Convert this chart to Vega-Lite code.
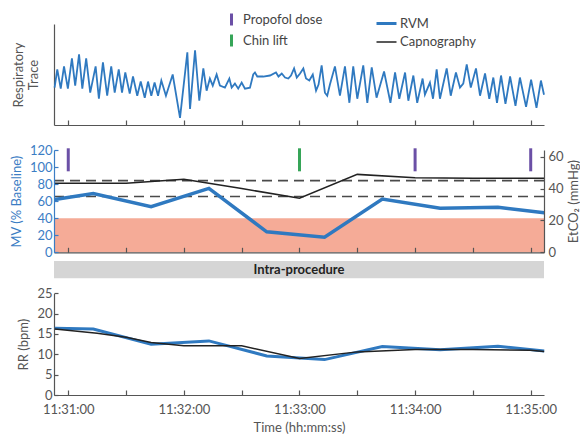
{
  "$schema": "https://vega.github.io/schema/vega-lite/v6.json",
  "width": 490,
  "height": 371,
  "autosize": {"type": "none"},
  "padding": {"left": 54, "top": 24, "right": 36, "bottom": 46},
  "config": {
    "view": {"stroke": null},
    "font": "Lato",
    "axis": {"labelFont": "Lato", "titleFont": "Lato", "labelFontSize": 13, "titleFontSize": 13, "titleFontWeight": "normal", "labelColor": "#555", "titleColor": "#555", "domainColor": "#555", "tickColor": "#555", "domainWidth": 1.2, "tickWidth": 1.2, "grid": false},
    "legend": {"labelFont": "Lato"}
  },
  "datasets": {
    "trace": [
      {"time": "2020-01-01T11:30:52.900", "signal": 37}, {"time": "2020-01-01T11:30:54.300", "signal": 55}, {"time": "2020-01-01T11:30:56.100", "signal": 36}, {"time": "2020-01-01T11:30:57.800", "signal": 58}, {"time": "2020-01-01T11:30:59.800", "signal": 36}, {"time": "2020-01-01T11:31:01.900", "signal": 66}, {"time": "2020-01-01T11:31:03.600", "signal": 39}, {"time": "2020-01-01T11:31:05.600", "signal": 70}, {"time": "2020-01-01T11:31:07.300", "signal": 36}, {"time": "2020-01-01T11:31:09.300", "signal": 66}, {"time": "2020-01-01T11:31:11.400", "signal": 32}, {"time": "2020-01-01T11:31:14.200", "signal": 58}, {"time": "2020-01-01T11:31:15.900", "signal": 26}, {"time": "2020-01-01T11:31:18.000", "signal": 62}, {"time": "2020-01-01T11:31:20.200", "signal": 29}, {"time": "2020-01-01T11:31:22.300", "signal": 58}, {"time": "2020-01-01T11:31:24.100", "signal": 32}, {"time": "2020-01-01T11:31:26.200", "signal": 55}, {"time": "2020-01-01T11:31:27.900", "signal": 32}, {"time": "2020-01-01T11:31:29.600", "signal": 52}, {"time": "2020-01-01T11:31:31.900", "signal": 31}, {"time": "2020-01-01T11:31:33.600", "signal": 48}, {"time": "2020-01-01T11:31:35.800", "signal": 29}, {"time": "2020-01-01T11:31:37.600", "signal": 43}, {"time": "2020-01-01T11:31:39.700", "signal": 27}, {"time": "2020-01-01T11:31:41.400", "signal": 43}, {"time": "2020-01-01T11:31:43.100", "signal": 29}, {"time": "2020-01-01T11:31:44.800", "signal": 42}, {"time": "2020-01-01T11:31:46.600", "signal": 29}, {"time": "2020-01-01T11:31:48.300", "signal": 44}, {"time": "2020-01-01T11:31:50.700", "signal": 29}, {"time": "2020-01-01T11:31:54.200", "signal": 50}, {"time": "2020-01-01T11:31:58.000", "signal": 7}, {"time": "2020-01-01T11:32:01.800", "signal": 72}, {"time": "2020-01-01T11:32:03.200", "signal": 16}, {"time": "2020-01-01T11:32:05.800", "signal": 74}, {"time": "2020-01-01T11:32:08.000", "signal": 24}, {"time": "2020-01-01T11:32:10.100", "signal": 56}, {"time": "2020-01-01T11:32:11.800", "signal": 34}, {"time": "2020-01-01T11:32:13.500", "signal": 46}, {"time": "2020-01-01T11:32:15.000", "signal": 39}, {"time": "2020-01-01T11:32:17.000", "signal": 50}, {"time": "2020-01-01T11:32:18.700", "signal": 39}, {"time": "2020-01-01T11:32:21.300", "signal": 37}, {"time": "2020-01-01T11:32:23.600", "signal": 46}, {"time": "2020-01-01T11:32:24.800", "signal": 37}, {"time": "2020-01-01T11:32:26.500", "signal": 41}, {"time": "2020-01-01T11:32:28.200", "signal": 36}, {"time": "2020-01-01T11:32:30.000", "signal": 42}, {"time": "2020-01-01T11:32:31.700", "signal": 36}, {"time": "2020-01-01T11:32:34.300", "signal": 37}, {"time": "2020-01-01T11:32:36.000", "signal": 50}, {"time": "2020-01-01T11:32:36.900", "signal": 52}, {"time": "2020-01-01T11:32:38.100", "signal": 48}, {"time": "2020-01-01T11:32:41.200", "signal": 48}, {"time": "2020-01-01T11:32:44.700", "signal": 49}, {"time": "2020-01-01T11:32:47.800", "signal": 52}, {"time": "2020-01-01T11:32:49.100", "signal": 48}, {"time": "2020-01-01T11:32:50.800", "signal": 51}, {"time": "2020-01-01T11:32:52.500", "signal": 47}, {"time": "2020-01-01T11:32:54.200", "signal": 46}, {"time": "2020-01-01T11:32:55.600", "signal": 49}, {"time": "2020-01-01T11:32:57.200", "signal": 56}, {"time": "2020-01-01T11:32:58.600", "signal": 47}, {"time": "2020-01-01T11:33:00.300", "signal": 51}, {"time": "2020-01-01T11:33:02.000", "signal": 56}, {"time": "2020-01-01T11:33:03.400", "signal": 46}, {"time": "2020-01-01T11:33:05.100", "signal": 44}, {"time": "2020-01-01T11:33:06.900", "signal": 50}, {"time": "2020-01-01T11:33:08.600", "signal": 34}, {"time": "2020-01-01T11:33:09.900", "signal": 40}, {"time": "2020-01-01T11:33:11.500", "signal": 59}, {"time": "2020-01-01T11:33:13.200", "signal": 32}, {"time": "2020-01-01T11:33:14.400", "signal": 29}, {"time": "2020-01-01T11:33:15.800", "signal": 40}, {"time": "2020-01-01T11:33:18.400", "signal": 58}, {"time": "2020-01-01T11:33:21.000", "signal": 29}, {"time": "2020-01-01T11:33:23.600", "signal": 58}, {"time": "2020-01-01T11:33:25.900", "signal": 22}, {"time": "2020-01-01T11:33:27.900", "signal": 58}, {"time": "2020-01-01T11:33:30.000", "signal": 26}, {"time": "2020-01-01T11:33:33.100", "signal": 59}, {"time": "2020-01-01T11:33:35.200", "signal": 22}, {"time": "2020-01-01T11:33:37.500", "signal": 57}, {"time": "2020-01-01T11:33:40.000", "signal": 27}, {"time": "2020-01-01T11:33:43.900", "signal": 53}, {"time": "2020-01-01T11:33:47.200", "signal": 22}, {"time": "2020-01-01T11:33:49.600", "signal": 52}, {"time": "2020-01-01T11:33:51.800", "signal": 26}, {"time": "2020-01-01T11:33:54.800", "signal": 52}, {"time": "2020-01-01T11:33:56.500", "signal": 24}, {"time": "2020-01-01T11:33:59.100", "signal": 49}, {"time": "2020-01-01T11:34:01.100", "signal": 22}, {"time": "2020-01-01T11:34:03.900", "signal": 46}, {"time": "2020-01-01T11:34:05.100", "signal": 30}, {"time": "2020-01-01T11:34:07.700", "signal": 42}, {"time": "2020-01-01T11:34:09.300", "signal": 26}, {"time": "2020-01-01T11:34:11.200", "signal": 55}, {"time": "2020-01-01T11:34:12.900", "signal": 26}, {"time": "2020-01-01T11:34:16.400", "signal": 56}, {"time": "2020-01-01T11:34:18.500", "signal": 29}, {"time": "2020-01-01T11:34:21.200", "signal": 52}, {"time": "2020-01-01T11:34:23.300", "signal": 37}, {"time": "2020-01-01T11:34:25.000", "signal": 41}, {"time": "2020-01-01T11:34:26.800", "signal": 60}, {"time": "2020-01-01T11:34:28.900", "signal": 37}, {"time": "2020-01-01T11:34:31.600", "signal": 56}, {"time": "2020-01-01T11:34:33.700", "signal": 29}, {"time": "2020-01-01T11:34:36.300", "signal": 51}, {"time": "2020-01-01T11:34:38.500", "signal": 26}, {"time": "2020-01-01T11:34:40.600", "signal": 47}, {"time": "2020-01-01T11:34:42.500", "signal": 22}, {"time": "2020-01-01T11:34:44.600", "signal": 49}, {"time": "2020-01-01T11:34:46.900", "signal": 21}, {"time": "2020-01-01T11:34:49.300", "signal": 48}, {"time": "2020-01-01T11:34:52.100", "signal": 19}, {"time": "2020-01-01T11:34:54.400", "signal": 47}, {"time": "2020-01-01T11:34:57.600", "signal": 18}, {"time": "2020-01-01T11:35:00.200", "signal": 45}, {"time": "2020-01-01T11:35:03.000", "signal": 17}, {"time": "2020-01-01T11:35:05.300", "signal": 44}, {"time": "2020-01-01T11:35:06.900", "signal": 30}
    ],
    "mv": [
      {"time": "2020-01-01T11:30:53", "MV": 62}, {"time": "2020-01-01T11:31:13", "MV": 69}, {"time": "2020-01-01T11:31:43", "MV": 53.5}, {"time": "2020-01-01T11:32:13", "MV": 75}, {"time": "2020-01-01T11:32:43", "MV": 24}, {"time": "2020-01-01T11:33:13", "MV": 17.6}, {"time": "2020-01-01T11:33:43", "MV": 62.5}, {"time": "2020-01-01T11:34:13", "MV": 51.6}, {"time": "2020-01-01T11:34:43", "MV": 52.8}, {"time": "2020-01-01T11:35:07", "MV": 46.5}
    ],
    "etco2": [
      {"time": "2020-01-01T11:30:53", "EtCO2": 43.3}, {"time": "2020-01-01T11:31:30", "EtCO2": 43.3}, {"time": "2020-01-01T11:32:00", "EtCO2": 45.8}, {"time": "2020-01-01T11:32:30", "EtCO2": 40}, {"time": "2020-01-01T11:33:00", "EtCO2": 33.9}, {"time": "2020-01-01T11:33:30", "EtCO2": 48.9}, {"time": "2020-01-01T11:34:00", "EtCO2": 46.8}, {"time": "2020-01-01T11:34:30", "EtCO2": 46.5}, {"time": "2020-01-01T11:35:00", "EtCO2": 46.4}, {"time": "2020-01-01T11:35:07", "EtCO2": 46.4}
    ],
    "rr": [
      {"time": "2020-01-01T11:30:53", "series": "RVM", "RR": 16.4}, {"time": "2020-01-01T11:31:13", "series": "RVM", "RR": 16.2}, {"time": "2020-01-01T11:31:43", "series": "RVM", "RR": 12.5}, {"time": "2020-01-01T11:32:13", "series": "RVM", "RR": 13.3}, {"time": "2020-01-01T11:32:43", "series": "RVM", "RR": 9.6}, {"time": "2020-01-01T11:33:13", "series": "RVM", "RR": 8.7}, {"time": "2020-01-01T11:33:43", "series": "RVM", "RR": 11.9}, {"time": "2020-01-01T11:34:13", "series": "RVM", "RR": 11.1}, {"time": "2020-01-01T11:34:43", "series": "RVM", "RR": 12.0}, {"time": "2020-01-01T11:35:07", "series": "RVM", "RR": 10.8},
      {"time": "2020-01-01T11:30:53", "series": "Capnography", "RR": 16.2}, {"time": "2020-01-01T11:31:15", "series": "Capnography", "RR": 15.2}, {"time": "2020-01-01T11:31:30", "series": "Capnography", "RR": 14.2}, {"time": "2020-01-01T11:31:43", "series": "Capnography", "RR": 12.9}, {"time": "2020-01-01T11:32:00", "series": "Capnography", "RR": 12.1}, {"time": "2020-01-01T11:32:30", "series": "Capnography", "RR": 12.1}, {"time": "2020-01-01T11:33:00", "series": "Capnography", "RR": 9.0}, {"time": "2020-01-01T11:33:30", "series": "Capnography", "RR": 10.6}, {"time": "2020-01-01T11:34:00", "series": "Capnography", "RR": 11.2}, {"time": "2020-01-01T11:34:30", "series": "Capnography", "RR": 11.2}, {"time": "2020-01-01T11:35:00", "series": "Capnography", "RR": 11.0}, {"time": "2020-01-01T11:35:07", "series": "Capnography", "RR": 10.7}
    ],
    "events": [
      {"time": "2020-01-01T11:31:00", "event": "Propofol dose"}, {"time": "2020-01-01T11:33:00", "event": "Chin lift"}, {"time": "2020-01-01T11:34:00", "event": "Propofol dose"}, {"time": "2020-01-01T11:35:00", "event": "Propofol dose"}
    ]
  },
  "layer": [
    {
      "data": {"values": [{"phase": "Intra-procedure"}]},
      "mark": {"type": "rect", "color": "#d5d5d5"},
      "encoding": {
        "y": {"datum": 0, "type": "quantitative", "scale": {"domain": [0, 1], "range": [254.3, 237], "nice": false, "zero": false}, "axis": null},
        "y2": {"datum": 1}
      }
    },
    {
      "data": {"values": [{"phase": "Intra-procedure"}]},
      "mark": {"type": "text", "font": "Lato", "fontSize": 13, "fontWeight": "bold", "color": "#222", "baseline": "middle"},
      "encoding": {
        "text": {"field": "phase"},
        "y": {"datum": 0.5, "type": "quantitative", "scale": {"domain": [0, 1], "range": [254.3, 237], "nice": false, "zero": false}, "axis": null}
      }
    },
    {
      "data": {"values": [{"zone": "MV below 40%"}]},
      "mark": {"type": "rect", "color": "#f5ab97"},
      "encoding": {
        "y": {"datum": 0, "type": "quantitative", "scale": {"domain": [0, 120], "range": [228.3, 126], "nice": false}, "axis": null},
        "y2": {"datum": 40}
      }
    },
    {
      "data": {"values": [{"EtCO2": 35}, {"EtCO2": 45}]},
      "mark": {"type": "rule", "color": "#4a4a4a", "strokeWidth": 1.6, "strokeDash": [10, 6]},
      "encoding": {
        "y": {"field": "EtCO2", "type": "quantitative", "scale": {"domain": [0, 64.2], "range": [228.3, 126], "nice": false}, "axis": null}
      }
    },
    {
      "data": {"name": "etco2"},
      "mark": {"type": "line", "color": "#222", "strokeWidth": 1.5},
      "encoding": {
        "x": {"field": "time", "type": "temporal", "scale": {"domain": [{"year": 2020, "month": 1, "date": 1, "hours": 11, "minutes": 30, "seconds": 52, "milliseconds": 600}, {"year": 2020, "month": 1, "date": 1, "hours": 11, "minutes": 35, "seconds": 6, "milliseconds": 900}], "nice": false}, "axis": null},
        "y": {"field": "EtCO2", "type": "quantitative", "scale": {"domain": [0, 64.2], "range": [228.3, 126], "nice": false},
          "axis": {"orient": "right", "values": [0, 20, 40, 60], "title": "EtCO₂ (mmHg)", "titleAngle": 270, "titleBaseline": "top", "tickSize": -4, "labelPadding": 8, "titlePadding": 4, "zindex": 1}}
      }
    },
    {
      "data": {"name": "mv"},
      "mark": {"type": "line", "color": "#2f79c0", "strokeWidth": 3.5},
      "encoding": {
        "x": {"field": "time", "type": "temporal", "scale": {"domain": [{"year": 2020, "month": 1, "date": 1, "hours": 11, "minutes": 30, "seconds": 52, "milliseconds": 600}, {"year": 2020, "month": 1, "date": 1, "hours": 11, "minutes": 35, "seconds": 6, "milliseconds": 900}], "nice": false},
          "axis": {"orient": "bottom", "offset": -142.7, "labels": false, "title": null, "tickSize": -5, "zindex": 1,
            "values": [{"year": 2020, "month": 1, "date": 1, "hours": 11, "minutes": 31, "seconds": 0}, {"year": 2020, "month": 1, "date": 1, "hours": 11, "minutes": 31, "seconds": 30}, {"year": 2020, "month": 1, "date": 1, "hours": 11, "minutes": 32, "seconds": 0}, {"year": 2020, "month": 1, "date": 1, "hours": 11, "minutes": 32, "seconds": 30}, {"year": 2020, "month": 1, "date": 1, "hours": 11, "minutes": 33, "seconds": 0}, {"year": 2020, "month": 1, "date": 1, "hours": 11, "minutes": 33, "seconds": 30}, {"year": 2020, "month": 1, "date": 1, "hours": 11, "minutes": 34, "seconds": 0}, {"year": 2020, "month": 1, "date": 1, "hours": 11, "minutes": 34, "seconds": 30}, {"year": 2020, "month": 1, "date": 1, "hours": 11, "minutes": 35, "seconds": 0}]}},
        "y": {"field": "MV", "type": "quantitative", "scale": {"domain": [0, 120], "range": [228.3, 126], "nice": false},
          "axis": {"orient": "left", "values": [0, 20, 40, 60, 80, 100, 120], "title": "MV (% Baseline)", "labelColor": "#3b7dc4", "titleColor": "#3b7dc4", "domainColor": "#3b7dc4", "tickColor": "#3b7dc4", "tickSize": -4, "labelPadding": 6, "titlePadding": 6, "zindex": 1}}
      }
    },
    {
      "data": {"name": "events"},
      "mark": {"type": "rule", "strokeWidth": 3},
      "encoding": {
        "x": {"field": "time", "type": "temporal", "scale": {"domain": [{"year": 2020, "month": 1, "date": 1, "hours": 11, "minutes": 30, "seconds": 52, "milliseconds": 600}, {"year": 2020, "month": 1, "date": 1, "hours": 11, "minutes": 35, "seconds": 6, "milliseconds": 900}], "nice": false}, "axis": null},
        "y": {"datum": 95, "type": "quantitative", "scale": {"domain": [0, 120], "range": [228.3, 126], "nice": false}, "axis": null},
        "y2": {"datum": 122},
        "color": {"field": "event", "type": "nominal", "scale": {"domain": ["Propofol dose", "Chin lift"], "range": ["#6b50a6", "#36a558"]},
          "legend": {"orient": "none", "legendX": 170, "legendY": -12, "title": null, "symbolType": "M0,-1L0,1", "symbolSize": 144, "symbolStrokeWidth": 3, "labelFontSize": 13, "labelColor": "#444", "rowPadding": -4, "labelOffset": 4}}
      }
    },
    {
      "data": {"name": "trace"},
      "mark": {"type": "line", "color": "#2f79c0", "strokeWidth": 1.8},
      "encoding": {
        "x": {"field": "time", "type": "temporal", "scale": {"domain": [{"year": 2020, "month": 1, "date": 1, "hours": 11, "minutes": 30, "seconds": 52, "milliseconds": 600}, {"year": 2020, "month": 1, "date": 1, "hours": 11, "minutes": 35, "seconds": 6, "milliseconds": 900}], "nice": false},
          "axis": {"orient": "bottom", "offset": -270, "labels": false, "title": null, "tickSize": -5,
            "values": [{"year": 2020, "month": 1, "date": 1, "hours": 11, "minutes": 31, "seconds": 0}, {"year": 2020, "month": 1, "date": 1, "hours": 11, "minutes": 31, "seconds": 30}, {"year": 2020, "month": 1, "date": 1, "hours": 11, "minutes": 32, "seconds": 0}, {"year": 2020, "month": 1, "date": 1, "hours": 11, "minutes": 32, "seconds": 30}, {"year": 2020, "month": 1, "date": 1, "hours": 11, "minutes": 33, "seconds": 0}, {"year": 2020, "month": 1, "date": 1, "hours": 11, "minutes": 33, "seconds": 30}, {"year": 2020, "month": 1, "date": 1, "hours": 11, "minutes": 34, "seconds": 0}, {"year": 2020, "month": 1, "date": 1, "hours": 11, "minutes": 34, "seconds": 30}, {"year": 2020, "month": 1, "date": 1, "hours": 11, "minutes": 35, "seconds": 0}]}},
        "y": {"field": "signal", "type": "quantitative", "scale": {"domain": [0, 100], "range": [101, 0], "nice": false},
          "axis": {"orient": "left", "title": ["Respiratory", "Trace"], "labels": false, "ticks": false, "titlePadding": 14}}
      }
    },
    {
      "data": {"name": "rr"},
      "mark": {"type": "line"},
      "encoding": {
        "x": {"field": "time", "type": "temporal", "scale": {"domain": [{"year": 2020, "month": 1, "date": 1, "hours": 11, "minutes": 30, "seconds": 52, "milliseconds": 600}, {"year": 2020, "month": 1, "date": 1, "hours": 11, "minutes": 35, "seconds": 6, "milliseconds": 900}], "nice": false},
          "axis": {"orient": "bottom", "title": "Time (hh:mm:ss)", "tickSize": -5, "labelPadding": 13, "titlePadding": 5, "labelOverlap": false, "labelFlush": false,
            "labelExpr": "seconds(datum.value) == 0 ? timeFormat(datum.value, '%H:%M:%S') : ''",
            "values": [{"year": 2020, "month": 1, "date": 1, "hours": 11, "minutes": 31, "seconds": 0}, {"year": 2020, "month": 1, "date": 1, "hours": 11, "minutes": 31, "seconds": 30}, {"year": 2020, "month": 1, "date": 1, "hours": 11, "minutes": 32, "seconds": 0}, {"year": 2020, "month": 1, "date": 1, "hours": 11, "minutes": 32, "seconds": 30}, {"year": 2020, "month": 1, "date": 1, "hours": 11, "minutes": 33, "seconds": 0}, {"year": 2020, "month": 1, "date": 1, "hours": 11, "minutes": 33, "seconds": 30}, {"year": 2020, "month": 1, "date": 1, "hours": 11, "minutes": 34, "seconds": 0}, {"year": 2020, "month": 1, "date": 1, "hours": 11, "minutes": 34, "seconds": 30}, {"year": 2020, "month": 1, "date": 1, "hours": 11, "minutes": 35, "seconds": 0}]}},
        "y": {"field": "RR", "type": "quantitative", "scale": {"domain": [0, 25], "range": [371, 269.3], "nice": false},
          "axis": {"orient": "left", "values": [0, 5, 10, 15, 20, 25], "title": "RR (bpm)", "tickSize": -4, "labelPadding": 6, "titlePadding": 6}},
        "color": {"field": "series", "type": "nominal", "scale": {"domain": ["RVM", "Capnography"], "range": ["#2f79c0", "#222222"]},
          "legend": {"orient": "none", "legendX": 321, "legendY": -12, "title": null, "symbolType": "stroke", "symbolSize": 400, "labelFontSize": 13, "labelColor": "#444", "rowPadding": 0, "labelOffset": 2}},
        "strokeWidth": {"field": "series", "type": "nominal", "scale": {"domain": ["RVM", "Capnography"], "range": [3, 1.5]}}
      }
    }
  ],
  "resolve": {"scale": {"x": "independent", "y": "independent", "color": "independent", "strokeWidth": "independent"}}
}
